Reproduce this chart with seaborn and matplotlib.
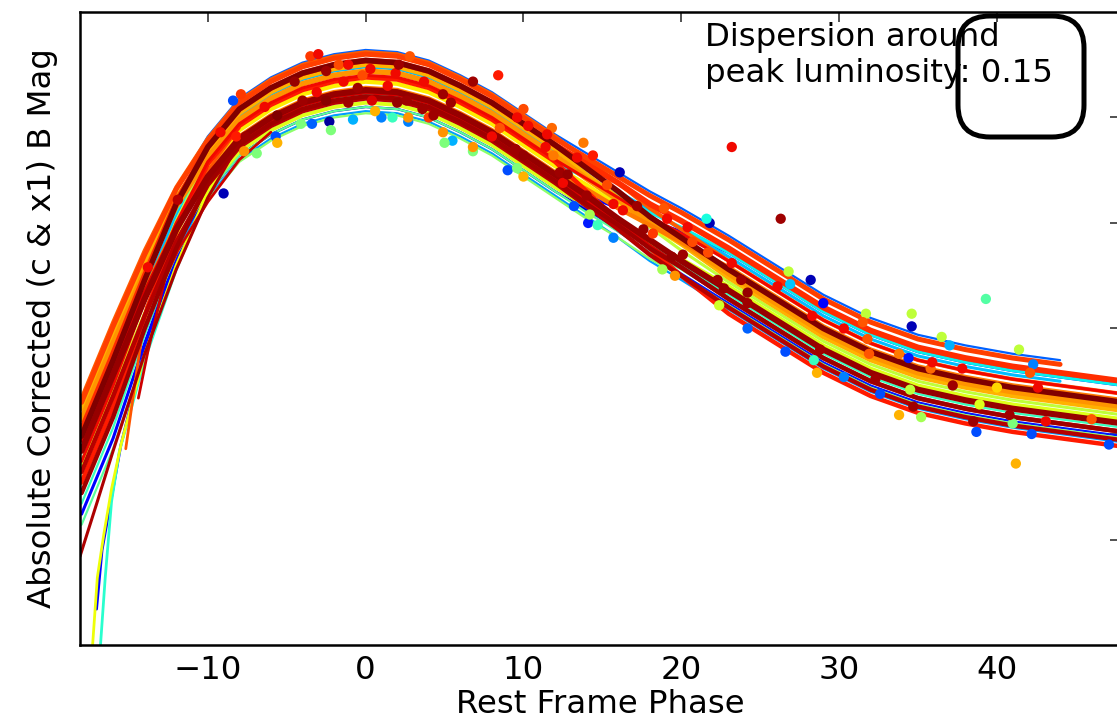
import numpy as np
import pandas as pd
import matplotlib
matplotlib.use("Agg")
import matplotlib.pyplot as plt
import seaborn as sns
from matplotlib.patches import FancyBboxPatch
from matplotlib.transforms import IdentityTransform

# ---------------- data ----------------
phase_grid = [-18, -17, -16, -14, -12, -10, -8, -6, -4, -2, 0, 2, 4, 6, 8, 10, 12, 14, 16, 18, 20,
              23, 26, 29, 32, 35, 38, 41, 44, 48]
nan = float("nan")

sn01 = [-17.72, -17.90, -18.08, -18.48, -18.85, -19.14, -19.32, -19.42, -19.49, -19.53, -19.55, -19.54, -19.50, -19.43, -19.35, -19.25, -19.15, -19.06, -18.98, -18.89, -18.82, -18.69, -18.55, -18.41, -18.30, -18.22, -18.17, -18.13, -18.10, -18.06]
sn02 = [-17.62, -17.80, -17.98, -18.43, -18.84, -19.18, -19.36, -19.46, -19.53, -19.57, -19.59, -19.58, -19.54, -19.47, -19.39, -19.29, -19.19, -19.13, -19.07, -19.01, -18.96, -18.86, -18.72, -18.58, -18.47, -18.39, -18.34, -18.30, -18.27, -18.23]
sn03 = [-17.77, -17.95, -18.13, -18.52, -18.88, -19.16, -19.34, -19.44, -19.51, -19.55, -19.57, -19.56, -19.52, -19.45, -19.37, -19.27, -19.17, -19.07, -18.96, -18.86, -18.76, -18.62, -18.48, -18.34, -18.23, -18.15, -18.10, -18.06, -18.03, -17.99]
sn04 = [-18.12, -18.30, -18.48, -18.84, -19.16, -19.41, -19.59, -19.69, -19.76, -19.80, -19.82, -19.81, -19.77, -19.70, -19.62, -19.52, -19.42, -19.33, -19.24, -19.15, -19.07, -18.94, -18.80, -18.66, -18.55, -18.47, -18.42, -18.38, -18.35, nan]
sn05 = [-17.82, -18.00, -18.18, -18.54, -18.87, -19.12, -19.30, -19.40, -19.47, -19.51, -19.53, -19.52, -19.48, -19.41, -19.33, -19.23, -19.13, -19.03, -18.93, -18.82, -18.73, -18.59, -18.45, -18.31, -18.20, -18.12, -18.07, -18.03, -18.00, -17.96]
sn06 = [-17.92, -18.10, -18.28, -18.68, -19.04, -19.33, -19.51, -19.61, -19.68, -19.72, -19.74, -19.73, -19.69, -19.62, -19.54, -19.44, -19.34, -19.25, -19.15, -19.06, -18.97, -18.84, -18.70, -18.56, -18.45, -18.37, -18.32, -18.28, -18.25, nan]
sn07 = [-18.07, -18.25, -18.43, -18.76, -19.06, -19.28, -19.46, -19.56, -19.63, -19.67, -19.69, -19.68, -19.64, -19.57, -19.49, -19.39, -19.29, -19.21, -19.13, -19.05, -18.98, -18.86, -18.72, -18.58, -18.47, -18.39, -18.34, -18.30, -18.27, -18.23]
sn08 = [-17.67, -17.85, -18.03, -18.47, -18.87, -19.20, -19.38, -19.48, -19.55, -19.59, -19.61, -19.60, -19.56, -19.49, -19.41, -19.31, -19.21, -19.11, -19.00, -18.90, -18.80, -18.66, -18.52, -18.38, -18.27, -18.19, -18.14, -18.10, -18.07, -18.03]
sn09 = [-17.57, -17.75, -17.93, -18.38, -18.80, -19.14, -19.32, -19.42, -19.49, -19.53, -19.55, -19.54, -19.50, -19.43, -19.35, -19.25, -19.15, -19.05, -18.96, -18.86, -18.78, -18.64, -18.50, -18.36, -18.25, -18.17, -18.12, -18.08, -18.05, -18.01]
sn10 = [-17.77, -17.95, -18.13, -18.50, -18.85, -19.11, -19.29, -19.39, -19.46, -19.50, -19.52, -19.51, -19.47, -19.40, -19.32, -19.22, -19.12, -19.02, -18.93, -18.83, -18.75, -18.61, -18.47, -18.33, -18.22, -18.14, -18.09, -18.05, -18.02, -17.98]
sn11 = [-17.87, -18.05, -18.23, -18.64, -19.01, -19.31, -19.49, -19.59, -19.66, -19.70, -19.72, -19.71, -19.67, -19.60, -19.52, -19.42, -19.32, -19.21, -19.09, -18.98, -18.87, -18.72, -18.58, -18.44, -18.33, -18.25, -18.20, -18.16, -18.13, -18.09]
sn12 = [-17.85, -18.03, -18.21, -18.57, -18.91, -19.16, -19.34, -19.44, -19.51, -19.55, -19.57, -19.56, -19.52, -19.45, -19.37, -19.27, -19.17, -19.08, -18.99, -18.91, -18.83, -18.70, -18.56, -18.42, -18.31, -18.23, -18.18, -18.14, -18.11, -18.07]
sn13 = [-17.77, -17.95, -18.13, -18.55, -18.95, -19.26, -19.44, -19.54, -19.61, -19.65, -19.67, -19.66, -19.62, -19.55, -19.47, -19.37, -19.27, -19.18, -19.08, -18.99, -18.90, -18.77, -18.63, -18.49, -18.38, -18.30, -18.25, -18.21, -18.18, -18.14]
sn14 = [-18.12, -18.30, -18.48, -18.81, -19.12, -19.34, -19.52, -19.62, -19.69, -19.73, -19.75, -19.74, -19.70, -19.63, -19.55, -19.45, -19.35, -19.23, -19.12, -19.00, -18.90, -18.74, -18.60, -18.46, -18.35, -18.27, -18.22, -18.18, -18.15, -18.11]
sn15 = [-18.07, -18.25, -18.43, -18.77, -19.08, -19.31, -19.49, -19.59, -19.66, -19.70, -19.72, -19.71, -19.67, -19.60, -19.52, -19.42, -19.32, -19.21, -19.11, -19.00, -18.91, -18.76, -18.62, -18.48, -18.37, -18.29, -18.24, -18.20, -18.17, -18.13]
sn16 = [-17.97, -18.15, -18.33, -18.68, -18.99, -19.23, -19.41, -19.51, -19.58, -19.62, -19.64, -19.63, -19.59, -19.52, -19.44, -19.34, -19.24, -19.16, -19.07, -18.99, -18.91, -18.79, -18.65, -18.51, -18.40, -18.32, -18.27, -18.23, -18.20, -18.16]
sn17 = [-18.17, -18.35, -18.53, -18.87, -19.17, -19.40, -19.58, -19.68, -19.75, -19.79, -19.81, -19.80, -19.76, -19.69, -19.61, -19.51, -19.41, -19.30, -19.19, -19.07, -18.97, -18.82, -18.68, -18.54, -18.43, -18.35, -18.30, -18.26, -18.23, -18.19]
sn18 = [-18.15, -18.33, -18.51, -18.85, -19.16, -19.39, -19.57, -19.67, -19.74, -19.78, -19.80, -19.79, -19.75, -19.68, -19.60, -19.50, -19.40, -19.31, -19.22, -19.13, -19.05, -18.92, -18.78, -18.64, -18.53, -18.45, -18.40, -18.36, -18.33, nan]
sn19 = [-18.02, -18.20, -18.38, -18.75, -19.10, -19.36, -19.54, -19.64, -19.71, -19.75, -19.77, -19.76, -19.72, -19.65, -19.57, -19.47, -19.37, -19.28, -19.19, -19.09, -19.01, -18.88, -18.74, -18.60, -18.49, -18.41, -18.36, -18.32, -18.29, -18.25]
sn20 = [-17.77, -17.95, -18.13, -18.56, -18.96, -19.28, -19.46, -19.56, -19.63, -19.67, -19.69, -19.68, -19.64, -19.57, -19.49, -19.39, -19.29, -19.15, -19.01, -18.88, -18.75, -18.57, -18.43, -18.29, -18.18, -18.10, -18.05, -18.01, -17.98, -17.94]
sn21 = [-17.87, -18.05, -18.23, -18.63, -19.00, -19.29, -19.47, -19.57, -19.64, -19.68, -19.70, -19.69, -19.65, -19.58, -19.50, -19.40, -19.30, -19.21, -19.12, -19.03, -18.95, -18.82, -18.68, -18.54, -18.43, -18.35, -18.30, -18.26, -18.23, -18.19]
sn22 = [-17.97, -18.15, -18.33, -18.67, -18.98, -19.21, -19.39, -19.49, -19.56, -19.60, -19.62, -19.61, -19.57, -19.50, -19.42, -19.32, -19.22, -19.11, -19.00, -18.89, -18.79, -18.64, -18.50, -18.36, -18.25, -18.17, -18.12, -18.08, -18.05, -18.01]
sn23 = [-17.82, -18.00, -18.18, -18.56, -18.91, -19.18, -19.36, -19.46, -19.53, -19.57, -19.59, -19.58, -19.54, -19.47, -19.39, -19.29, -19.19, -19.08, -18.97, -18.85, -18.75, -18.60, -18.46, -18.32, -18.21, -18.13, -18.08, -18.04, -18.01, -17.97]
sn24 = [-17.72, -17.90, -18.08, -18.50, -18.88, -19.19, -19.37, -19.47, -19.54, -19.58, -19.60, -19.59, -19.55, -19.48, -19.40, -19.30, -19.20, -19.09, -18.99, -18.88, -18.79, -18.64, -18.50, -18.36, -18.25, -18.17, -18.12, -18.08, -18.05, -18.01]
sn25 = [-17.92, -18.10, -18.28, -18.64, -18.97, -19.22, -19.40, -19.50, -19.57, -19.61, -19.63, -19.62, -19.58, -19.51, -19.43, -19.33, -19.23, -19.13, -19.02, -18.92, -18.82, -18.68, -18.54, -18.40, -18.29, -18.21, -18.16, -18.12, -18.09, -18.05]
sn26 = [-17.99, -18.17, -18.35, -18.73, -19.09, -19.36, -19.54, -19.64, -19.71, -19.75, -19.77, -19.76, -19.72, -19.65, -19.57, -19.47, -19.37, -19.26, -19.15, -19.03, -18.93, -18.78, -18.64, -18.50, -18.39, -18.31, -18.26, -18.22, -18.19, -18.15]

grid_curves = [sn01, sn02, sn03, sn04, sn05, sn06, sn07, sn08, sn09, sn10, sn11, sn12, sn13,
               sn14, sn15, sn16, sn17, sn18, sn19, sn20, sn21, sn22, sn23, sn24, sn25, sn26]
grid_cval = [0.05, 0.12, 0.15, 0.22, 0.28, 0.31, 0.36, 0.42, 0.46, 0.52, 0.58, 0.62, 0.66,
             0.72, 0.75, 0.78, 0.81, 0.84, 0.86, 0.88, 0.90, 0.92, 0.95, 0.97, 0.98, 1.00]

# partial light curves (early steep risers / late starters)
early1_phase = [-17.3, -17.0, -16.6, -16.1, -15.5, -14.0, -12.0, -10.0, -8.0]
early1_mag = [-17.00, -17.32, -17.52, -17.74, -17.95, -18.38, -18.80, -19.15, -19.38]
early2_phase = [-16.8, -16.5, -16.1, -15.6, -14.0, -12.0, -10.0, -8.0]
early2_mag = [-17.00, -17.32, -17.68, -17.92, -18.35, -18.78, -19.13, -19.36]
early3_phase = [-17.05, -16.7, -16.1, -15.5, -14.0, -12.0, -10.0, -8.0]
early3_mag = [-17.17, -17.45, -17.70, -17.95, -18.40, -18.82, -19.15, -19.37]
early4_phase = [-18.1, -17.0, -16.0, -14.0, -12.0, -10.0, -8.0]
early4_mag = [-17.42, -17.68, -17.92, -18.38, -18.78, -19.12, -19.38]
early5_phase = [-15.2, -14.5, -13.9, -12.0, -10.0, -8.0]
early5_mag = [-17.93, -18.30, -18.60, -18.95, -19.25, -19.45]
early6_phase = [-14.4, -13.8, -12.7, -11.9, -10.0, -8.0, -6.0]
early6_mag = [-18.17, -18.39, -18.74, -18.87, -19.10, -19.30, -19.43]
part_curves = [(early1_phase, early1_mag), (early2_phase, early2_mag), (early3_phase, early3_mag),
               (early4_phase, early4_mag), (early5_phase, early5_mag), (early6_phase, early6_mag)]
part_cval = [0.64, 0.40, 0.13, 0.96, 0.82, 0.93]

# observed photometry points
dot_phase = [-8.4, -7.9, -9.2, -8.2, -7.6, -7.7, -6.9, -6.4, -5.6, -5.7, -5.6, -9.0, -4.5, -4.1, -4.0,
             -3.4, -3.5, -3.0, -2.5, -2.5, -2.3, -2.2, -3.1, -1.7, -1.1, -1.4, -1.1, -0.8, -0.5, -0.2,
             0.3, 0.4, 0.6, 1.0, 1.7, 1.4, 1.9, 2.1, 2.0, 2.6, 2.7, 2.8, 2.7, 3.7, 3.6,
             4.0, 4.3, 4.9, 4.9, 5.0, 5.4, 5.5, 8.4, 6.8, 6.8, 6.8, 9.0, 10.0, 9.6, 10.0,
             9.6, 8.5, 8.0, 9.5, 10.0, 10.3, 11.8, 11.5, 11.4, 12.3, 12.8, 12.5, 11.9, 13.8, 14.4,
             13.4, 13.2, 14.1, 14.7, 14.2, 14.0, 15.3, 15.7, 16.1, 16.3, 17.2, 17.6, 18.2, 18.9, 19.1,
             20.4, 21.6, 21.8, 15.7, 26.3, 26.8, 28.2, 20.1, 19.4, 19.6, 18.8, 20.7, 21.7, 22.3, 22.7,
             23.8, 24.2, 24.2, 23.2, 22.4, 24.2, 26.1, 26.9, 29.0, 28.3, 30.3, 31.5, 31.7, 31.8, 31.9,
             26.6, 28.4, 28.6, 28.8, 30.3, 32.3, 32.6, 39.3, 34.6, 34.6, 36.5, 37.0, 41.4, 42.3, 33.8,
             34.4, 35.9, 37.8, 35.8, 42.1, 42.6, 37.2, 34.5, 40.0, 34.7, 33.8, 35.2, 38.9, 40.8, 38.5,
             41.0, 43.1, 38.7, 42.2, 46.0, 47.1, 41.2, 23.2, -11.9, -13.8]
dot_mag = [-19.58, -19.61, -19.43, -19.41, -19.41, -19.34, -19.33, -19.55, -19.51, -19.41, -19.38, -19.14, -19.67, -19.47, -19.58,
           -19.47, -19.79, -19.80, -19.72, -19.58, -19.48, -19.44, -19.62, -19.75, -19.75, -19.67, -19.57, -19.49, -19.64, -19.70,
           -19.73, -19.58, -19.53, -19.50, -19.50, -19.65, -19.71, -19.75, -19.57, -19.58, -19.50, -19.79, -19.48, -19.67, -19.54,
           -19.50, -19.51, -19.43, -19.61, -19.38, -19.57, -19.39, -19.70, -19.67, -19.36, -19.34, -19.25, -19.22, -19.26, -19.54,
           -19.50, -19.45, -19.41, -19.35, -19.32, -19.46, -19.45, -19.42, -19.36, -19.24, -19.23, -19.19, -19.32, -19.38, -19.32,
           -19.31, -19.08, -19.00, -18.99, -19.04, -19.13, -19.18, -19.09, -19.24, -19.06, -19.08, -18.97, -18.95, -19.07, -19.02,
           -18.98, -19.02, -19.00, -18.93, -19.02, -18.77, -18.73, -18.85, -18.84, -18.75, -18.78, -18.91, -18.86, -18.73, -18.69,
           -18.73, -18.67, -18.62, -18.81, -18.61, -18.50, -18.70, -18.71, -18.62, -18.56, -18.50, -18.53, -18.57, -18.45, -18.38,
           -18.39, -18.35, -18.29, -18.40, -18.27, -18.26, -18.19, -18.64, -18.57, -18.51, -18.46, -18.42, -18.40, -18.33, -18.38,
           -18.36, -18.34, -18.31, -18.31, -18.29, -18.22, -18.23, -18.21, -18.22, -18.13, -18.09, -18.08, -18.14, -18.09, -18.06,
           -18.05, -18.06, -18.01, -18.00, -18.07, -17.95, -17.86, -19.36, -19.11, -18.79]
dot_cval = [0.20, 0.85, 0.90, 0.88, 0.97, 0.75, 0.50, 0.90, 1.00, 0.20, 0.72, 0.05, 0.98, 0.50, 0.97,
            0.22, 0.85, 0.90, 0.97, 0.99, 0.03, 0.50, 0.90, 0.83, 0.90, 0.90, 0.97, 0.30, 0.97, 0.83,
            0.90, 0.92, 0.72, 0.25, 0.42, 0.90, 0.90, 0.97, 0.98, 0.97, 0.75, 0.82, 0.25, 0.90, 0.97,
            0.85, 0.97, 0.75, 0.97, 0.50, 0.97, 0.30, 0.88, 0.97, 0.75, 0.50, 0.20, 0.72, 0.50, 0.83,
            0.90, 0.82, 0.90, 0.97, 0.98, 0.90, 0.80, 0.90, 0.90, 0.97, 0.98, 0.90, 0.78, 0.78, 0.88,
            0.90, 0.20, 0.15, 0.42, 0.55, 0.97, 0.83, 0.90, 0.05, 0.90, 0.97, 0.98, 0.85, 0.82, 0.90,
            0.90, 0.38, 0.05, 0.25, 0.97, 0.58, 0.05, 0.97, 0.98, 0.75, 0.55, 0.83, 0.83, 0.97, 0.98,
            0.97, 0.98, 0.97, 0.90, 0.60, 0.22, 0.90, 0.32, 0.12, 0.90, 0.90, 0.82, 0.58, 0.82, 0.82,
            0.20, 0.42, 0.72, 0.97, 0.25, 0.97, 0.20, 0.45, 0.58, 0.05, 0.58, 0.30, 0.58, 0.25, 0.78,
            0.15, 0.90, 0.90, 0.80, 0.82, 0.90, 0.97, 0.58, 0.68, 0.97, 0.72, 0.55, 0.62, 0.97, 0.97,
            0.50, 0.90, 0.20, 0.20, 0.82, 0.20, 0.72, 0.90, 0.95, 0.90]

y_ticks = [-19.5, -19.0, -18.5, -18.0, -17.5]
x_ticks = [-10, 0, 10, 20, 30, 40]
annotation = "Dispersion around\npeak luminosity: 0.15"

# ---------------- styles ----------------
grid_lw = [1.8, 2.2, 1.6, 1.6, 1.6, 2.2, 2.2, 1.6, 1.6, 1.6, 2.2, 2.8, 3.2,
           3.2, 4.0, 3.2, 2.8, 3.6, 4.2, 3.2, 2.2, 3.2, 3.2, 3.2, 4.4, 4.0]
part_lw = [2.0, 2.0, 2.0, 2.2, 2.0, 2.0]

sns.set_style("white")
plt.rcParams["font.family"] = ["DejaVu Sans"]
plt.rcParams["text.color"] = "black"
plt.rcParams["axes.labelcolor"] = "black"
plt.rcParams["xtick.color"] = "black"
plt.rcParams["ytick.color"] = "black"
FS = 23.3

cmap = plt.get_cmap("jet")
fig = plt.figure(figsize=(11.17, 7.21), dpi=100)
ax = fig.add_axes([0.0716, 0.1054, 0.9311, 0.878])

# collect all lines and draw in colour order (red on top)
lines = []
for mags, c, lw in zip(grid_curves, grid_cval, grid_lw):
    df = pd.DataFrame({"phase": phase_grid, "mag": mags}).dropna()
    lines.append((c, lw, df))
for (ph, mg), c, lw in zip(part_curves, part_cval, part_lw):
    lines.append((c, lw, pd.DataFrame({"phase": ph, "mag": mg})))
lines.sort(key=lambda t: t[0])
for i, (c, lw, df) in enumerate(lines):
    sns.lineplot(data=df, x="phase", y="mag", color=cmap(c), linewidth=lw,
                 estimator=None, sort=False, ax=ax, legend=False, zorder=2 + i * 0.01)

dots = pd.DataFrame({"phase": dot_phase, "mag": dot_mag, "c": dot_cval}).sort_values("c")
sns.scatterplot(data=dots, x="phase", y="mag", hue="c", palette=cmap, hue_norm=(0, 1),
                s=55, linewidth=0, legend=False, ax=ax, zorder=5)

ax.set_xlim(-18.1, 47.8)
ax.set_ylim(-17.0, -20.0)
ax.set_xticks(x_ticks)
ax.set_yticks(y_ticks)
ax.set_yticklabels([""] * len(y_ticks))
ax.tick_params(direction="in", length=7, width=1.2, top=True, right=True,
               labelsize=FS, pad=7, color="#333333")
for sp in ax.spines.values():
    sp.set_linewidth(1.8)
    sp.set_color("black")
ax.set_xlabel("Rest Frame Phase", fontsize=FS, labelpad=2.5)
ax.set_ylabel("Absolute Corrected (c & x1) B Mag", fontsize=FS, labelpad=9)

ax.text(0.601, 0.8894, annotation, transform=ax.transAxes, fontsize=FS,
        ha="left", va="baseline", zorder=10)
box = FancyBboxPatch((958, 721 - 137), 126, 121, boxstyle="round,pad=0,rounding_size=32",
                     transform=IdentityTransform(), fill=False, lw=3.6, ec="black", zorder=11)
fig.add_artist(box)

fig.savefig("out.png", dpi=100)
